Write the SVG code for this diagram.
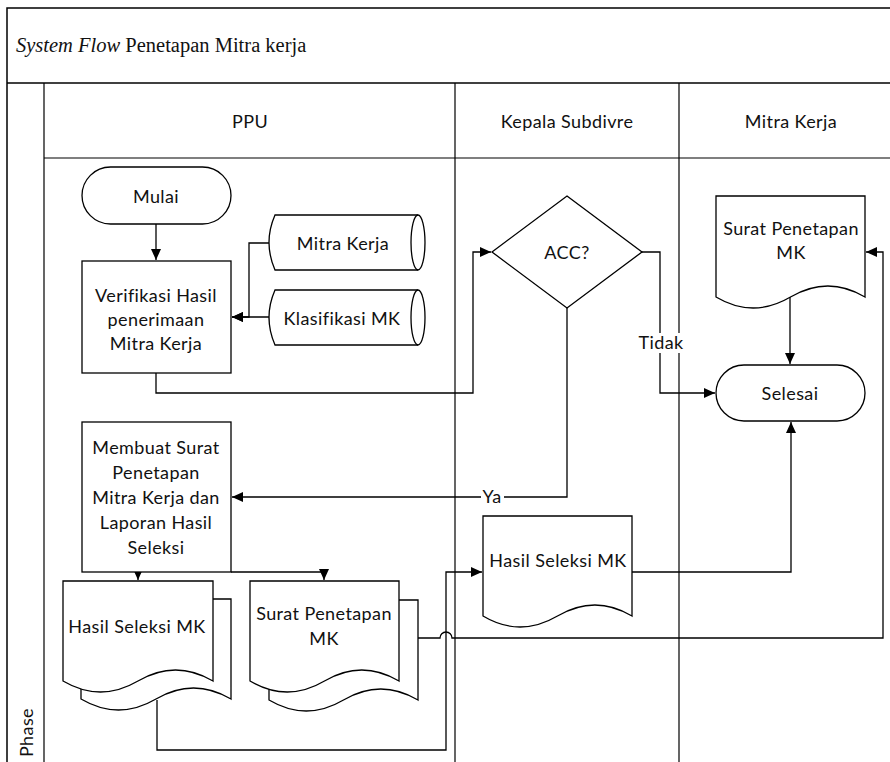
<svg xmlns="http://www.w3.org/2000/svg" width="890" height="762" viewBox="0 0 890 762">
<style>
.frame{fill:none;stroke:#000;stroke-width:1.5}
.lane{fill:none;stroke:#000;stroke-width:1.2}
.shape{fill:#fff;stroke:#000;stroke-width:1.3}
.con{fill:none;stroke:#000;stroke-width:1.3}
.t{font-family:Lato,"Open Sans",sans-serif;font-size:18px;letter-spacing:0.4px;fill:#111;text-anchor:middle}
.title{font-family:"Liberation Serif","Times New Roman",serif;font-size:20.5px;fill:#111}
</style>
<defs>
<marker id="ah" markerUnits="userSpaceOnUse" markerWidth="12" markerHeight="10" refX="11" refY="5" orient="auto">
<path d="M0,0 L11,5 L0,10 Z" fill="#000"/>
</marker>
</defs>
<rect width="890" height="762" fill="#fff"/>
<g id="pool">
<path class="frame" d="M7,762 V8 H890"/>
<path class="frame" d="M7,83 H890"/>
<path class="lane" d="M44,83 V762 M44,158 H890 M455,83 V762 M679,83 V762"/>
<text class="title" x="16" y="52"><tspan font-style="italic">System Flow</tspan> Penetapan Mitra kerja</text>
<text class="t" x="250" y="128">PPU</text>
<text class="t" x="567" y="128">Kepala Subdivre</text>
<text class="t" x="791" y="128">Mitra Kerja</text>
<text class="t" transform="translate(33,708) rotate(-90)" style="text-anchor:end">Phase</text>
</g>
<g id="connectors">
<path class="con" d="M156,224 V260" marker-end="url(#ah)"/>
<path class="con" d="M269,243 H249 V317 H232" marker-end="url(#ah)"/>
<path class="con" d="M269,317 H232" marker-end="url(#ah)"/>
<path class="con" d="M156,373 V393 H473 V252 H491" marker-end="url(#ah)"/>
<path class="con" d="M642,252 H660 V393 H715" marker-end="url(#ah)"/>
<path class="con" d="M567,308 V497 H232" marker-end="url(#ah)"/>
<path class="con" d="M790,297 V364" marker-end="url(#ah)"/>
<path class="con" d="M632,572 H791 V422" marker-end="url(#ah)"/>
<path class="con" d="M138,572 V580" marker-end="url(#ah)"/>
<path class="con" d="M231,572 H324 V580" marker-end="url(#ah)"/>
<path class="con" d="M157,700 V750 H446 V572 H482" marker-end="url(#ah)"/>
<path class="con" d="M399,638 H440 A6,6 0 0 1 452,638 H883 V252 H866" marker-end="url(#ah)"/>
<rect x="637" y="333" width="48" height="20" fill="#fff"/>
<text class="t" x="661" y="349">Tidak</text>
<rect x="481" y="488" width="23" height="18" fill="#fff"/>
<text class="t" x="492" y="503">Ya</text>
</g>
<g id="mulai">
<rect class="shape" x="82" y="167" width="149" height="57" rx="28.5"/>
<text class="t" x="156" y="203">Mulai</text>
</g>
<g id="verifikasi">
<rect class="shape" x="82" y="261" width="149" height="112"/>
<text class="t" x="156" y="302">Verifikasi Hasil</text>
<text class="t" x="156" y="326">penerimaan</text>
<text class="t" x="156" y="350">Mitra Kerja</text>
</g>
<g id="db-mitra">
<path class="shape" d="M275,215 H418 A7,27.5 0 0 1 418,270 H275 Q263,242.5 275,215 Z"/>
<path class="con" d="M418,215 A7,27.5 0 0 0 418,270"/>
<text class="t" x="343" y="250">Mitra Kerja</text>
</g>
<g id="db-klasifikasi">
<path class="shape" d="M275,290 H418 A7,27.5 0 0 1 418,345 H275 Q263,317.5 275,290 Z"/>
<path class="con" d="M418,290 A7,27.5 0 0 0 418,345"/>
<text class="t" x="342" y="325">Klasifikasi MK</text>
</g>
<g id="acc">
<path class="shape" d="M567,196 L642,252 L567,308 L492,252 Z"/>
<text class="t" x="567" y="259">ACC?</text>
</g>
<g id="doc-mitra">
<path class="shape" d="M716,297 V196 H865 V297 Q828,275 790.5,297 Q753,319 716,297 Z"/>
<text class="t" x="791" y="235">Surat Penetapan</text>
<text class="t" x="791" y="259">MK</text>
</g>
<g id="selesai">
<rect class="shape" x="716" y="365" width="149" height="56" rx="28"/>
<text class="t" x="790" y="400">Selesai</text>
</g>
<g id="membuat">
<rect class="shape" x="82" y="422" width="149" height="150"/>
<text class="t" x="156" y="454">Membuat Surat</text>
<text class="t" x="156" y="479">Penetapan</text>
<text class="t" x="156" y="504">Mitra Kerja dan</text>
<text class="t" x="156" y="529">Laporan Hasil</text>
<text class="t" x="156" y="554">Seleksi</text>
</g>
<g id="doc-hasil-kepala">
<path class="shape" d="M483,616 V516 H632 V616 Q595,594 557.5,616 Q520,638 483,616 Z"/>
<text class="t" x="558" y="567">Hasil Seleksi MK</text>
</g>
<g id="doc-hasil-ppu">
<path class="shape" d="M81,699 V599 H231 V699 Q193.5,677 156,699 Q118.5,721 81,699 Z"/>
<path class="shape" d="M63,681 V581 H213 V681 Q175.5,659 138,681 Q100.5,703 63,681 Z"/>
<text class="t" x="137" y="633">Hasil Seleksi MK</text>
</g>
<g id="doc-surat-ppu">
<path class="shape" d="M269,700 V600 H418 V700 Q380.75,678 343.5,700 Q306.25,722 269,700 Z"/>
<path class="shape" d="M250,681 V581 H399 V681 Q361.75,659 324.5,681 Q287.25,703 250,681 Z"/>
<text class="t" x="324" y="620">Surat Penetapan</text>
<text class="t" x="324" y="645">MK</text>
</g>
</svg>
